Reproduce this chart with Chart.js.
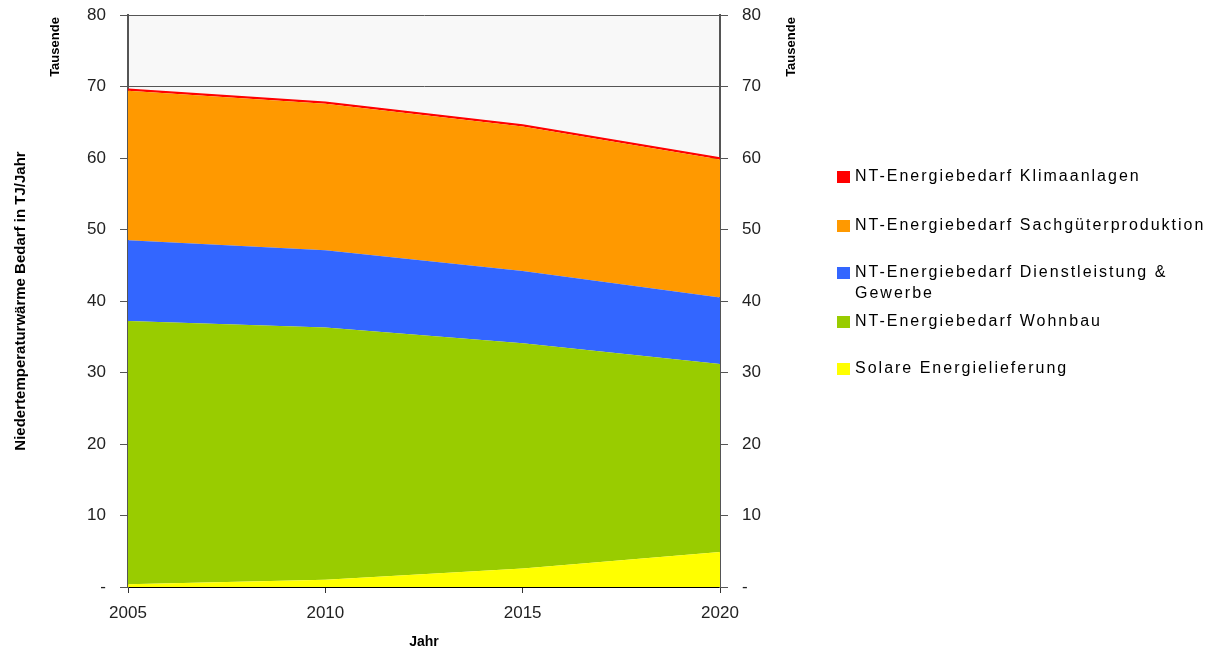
<!DOCTYPE html>
<html lang="de">
  <head>
    <meta charset="UTF-8" />
    <title>Niedertemperaturwärme Bedarf</title>
    <script src="https://cdn.jsdelivr.net/npm/chart.js"></script>
    <style>
      body { margin: 0; background: #fff; }
    </style>
  </head>
  <body>
    <canvas id="bedarfChart" width="1209" height="651"></canvas>
    <script>
      const years = ["2005", "2010", "2015", "2020"];
      const solar = [0.4, 1.0, 2.6, 4.9];
      const wohnbau = [36.8, 35.3, 31.5, 26.3];
      const dienstleistung = [11.3, 10.8, 10.1, 9.3];
      const sachgueter = [20.9, 20.5, 20.2, 19.3];
      const klima = [0.2, 0.2, 0.2, 0.2];
      const yTicks = [0, 10, 20, 30, 40, 50, 60, 70, 80];

      const FONT = "'Liberation Sans', Arial, sans-serif";

      // light grey plot background
      const plotBackground = {
        id: "plotBackground",
        beforeDraw(chart) {
          const { ctx, chartArea: a } = chart;
          ctx.save();
          ctx.fillStyle = "#f8f8f8";
          ctx.fillRect(a.left, a.top, a.right - a.left, a.bottom - a.top);
          ctx.restore();
        },
      };

      // legend on the right + the small "Tausende" labels
      const sideLegend = {
        id: "sideLegend",
        afterDraw(chart) {
          const ctx = chart.ctx;
          ctx.save();
          ctx.font = "bold 13px " + FONT;
          ctx.fillStyle = "#000";
          ctx.textAlign = "center";
          ctx.textBaseline = "middle";
          [55, 791].forEach((x) => {
            ctx.save();
            ctx.translate(x, 47);
            ctx.rotate(-Math.PI / 2);
            ctx.fillText("Tausende", 0, 0);
            ctx.restore();
          });

          const rows = [177, 226, 273, 322, 369];
          const items = chart.data.datasets.slice().reverse();
          ctx.font = "16px " + FONT;
          ctx.letterSpacing = "2px";
          ctx.textAlign = "left";
          items.forEach((ds, i) => {
            const y = rows[i];
            ctx.fillStyle = ds.backgroundColor;
            ctx.fillRect(837, y - 6, 13, 12);
            ctx.fillStyle = "#000";
            let line = "";
            let yy = y;
            ds.label.split(" ").forEach((w) => {
              const test = line ? line + " " + w : w;
              if (ctx.measureText(test).width > 354 && line) {
                ctx.fillText(line, 855, yy);
                line = w;
                yy += 21;
              } else {
                line = test;
              }
            });
            ctx.fillText(line, 855, yy);
          });
          ctx.restore();
        },
      };

      function makeSet(label, data, color, fill, border) {
        return {
          label: label,
          data: data,
          backgroundColor: color,
          borderColor: border ? color : "rgba(0,0,0,0)",
          borderWidth: border ? 1.5 : 0,
          pointRadius: 0,
          fill: fill,
          tension: 0,
        };
      }

      const ctx = document.getElementById("bedarfChart").getContext("2d");
      new Chart(ctx, {
        type: "line",
        data: {
          labels: years,
          datasets: [
            makeSet("Solare Energielieferung", solar, "#ffff00", "origin"),
            makeSet("NT-Energiebedarf Wohnbau", wohnbau, "#99cc00", "-1"),
            makeSet("NT-Energiebedarf Dienstleistung & Gewerbe", dienstleistung, "#3366ff", "-1"),
            makeSet("NT-Energiebedarf Sachgüterproduktion", sachgueter, "#ff9900", "-1"),
            makeSet("NT-Energiebedarf Klimaanlagen", klima, "#ff0000", "-1", true),
          ],
        },
        options: {
          responsive: false,
          animation: false,
          layout: { padding: { top: 15, right: 0, bottom: 0, left: 0 } },
          plugins: {
            legend: { display: false },
            tooltip: { enabled: false },
          },
          scales: {
            x: {
              offset: false,
              grid: {
                drawOnChartArea: false,
                color: "#333",
                tickLength: 6,
              },
              border: { color: "#000", width: 2 },
              ticks: {
                color: "#222",
                font: { family: FONT, size: 17 },
                padding: 10,
                maxRotation: 0,
              },
              title: {
                display: true,
                text: "Jahr",
                color: "#000",
                font: { family: FONT, size: 14, weight: "bold" },
                padding: { top: 6, bottom: 0 },
              },
              afterFit(scale) {
                scale.height = 64;
              },
            },
            y: {
              stacked: true,
              min: 0,
              max: 80,
              position: "left",
              afterBuildTicks(scale) {
                scale.ticks = yTicks.map((v) => ({ value: v }));
              },
              grid: { color: "#555", tickLength: 8 },
              border: { color: "#555", width: 2 },
              ticks: {
                color: "#222",
                font: { family: FONT, size: 17, lineHeight: 0.1 },
                padding: 14,
                callback: (v) => (v === 0 ? "-" : v),
              },
              title: {
                display: true,
                text: "Niedertemperaturwärme Bedarf in TJ/Jahr",
                color: "#000",
                font: { family: FONT, size: 15, weight: "bold" },
                padding: { top: 12, bottom: 0 },
              },
              afterFit(scale) {
                scale.width = 128;
              },
            },
            y2: {
              min: 0,
              max: 80,
              position: "right",
              afterBuildTicks(scale) {
                scale.ticks = yTicks.map((v) => ({ value: v }));
              },
              grid: { drawOnChartArea: false, color: "#555", tickLength: 8 },
              border: { color: "#555", width: 2 },
              ticks: {
                color: "#222",
                font: { family: FONT, size: 17, lineHeight: 0.1 },
                padding: 14,
                callback: (v) => (v === 0 ? "-" : v),
              },
              afterFit(scale) {
                scale.width = 489;
              },
            },
          },
        },
        plugins: [plotBackground, sideLegend],
      });
    </script>
  </body>
</html>
